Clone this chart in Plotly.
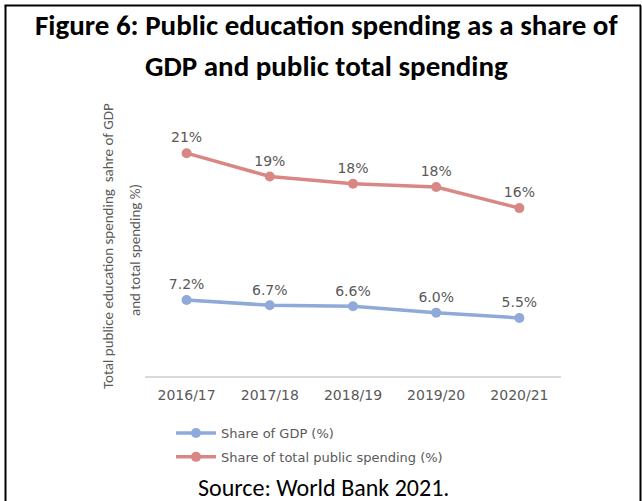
import plotly.graph_objects as go

years = ["2016/17", "2017/18", "2018/19", "2019/20", "2020/21"]
share_gdp = [7.2, 6.7, 6.6, 6.0, 5.5]
share_total = [21.1, 18.9, 18.2, 17.9, 15.9]

W, H = 642, 501
L, R, T, B = 145, 81, 112, 125
PW, PH = W - L - R, H - T - B

def px(x):
    return (x - L) / PW

def py(y):
    return (H - B - y) / PH

BLUE = "#8FAAD8"
RED = "#D98785"
GRAY = "#595959"
LBL = dict(family="DejaVu Sans, Verdana, sans-serif", size=14, color=GRAY)
CAL = "Carlito, Liberation Sans Narrow, Liberation Sans, sans-serif"

fig = go.Figure()
fig.add_trace(go.Scatter(
    x=years, y=share_gdp, mode="lines+markers+text", name="Share of GDP (%)",
    line=dict(color=BLUE, width=3.5), marker=dict(color=BLUE, size=10),
    text=[f"{v:.1f}%" for v in share_gdp], textposition="top center",
    textfont=LBL, legendgroup="a", cliponaxis=False))
fig.add_trace(go.Scatter(
    x=years, y=share_total, mode="lines+markers+text", name="Share of total public spending (%)",
    line=dict(color=RED, width=3.5), marker=dict(color=RED, size=10),
    text=[f"{v:.0f}%" for v in share_total], textposition="top center",
    textfont=LBL, legendgroup="b", cliponaxis=False))

TITLE_FONT = dict(family=CAL, size=29, color="#000000")

annotations = [
    dict(text="<b>Figure 6: Public education spending as a share of</b>", x=px(326), y=py(25),
         font=TITLE_FONT),
    dict(text="<b>GDP and public total spending</b>", x=px(326), y=py(66), font=TITLE_FONT),
    dict(text="Source: World Bank 2021.", x=px(323), y=py(487),
         font=dict(family=CAL, size=24, color="#000000")),
    dict(text="Total publice education spending  sahre of GDP", x=px(108), y=py(246), textangle=-90,
         font=dict(family=CAL, size=15, color=GRAY)),
    dict(text="and total spending %)", x=px(135), y=py(250), textangle=-90,
         font=dict(family=CAL, size=15, color=GRAY)),
]
for a in annotations:
    a.update(xref="paper", yref="paper", showarrow=False, xanchor="center", yanchor="middle")

fig.update_layout(
    width=W, height=H,
    margin=dict(l=L, r=R, t=T, b=B, pad=0),
    paper_bgcolor="white", plot_bgcolor="white",
    annotations=annotations,
    showlegend=True,
    legend=dict(x=px(171), y=py(418), xanchor="left", yanchor="top", orientation="v",
                font=dict(family="DejaVu Sans, Verdana, sans-serif", size=13, color=GRAY),
                tracegroupgap=4, itemwidth=40, bgcolor="rgba(0,0,0,0)"),
    xaxis=dict(range=[-0.5, 4.5], showgrid=False, showline=True, linecolor="#D9D9D9", linewidth=1.5,
               ticks="", tickfont=dict(family="DejaVu Sans, Verdana, sans-serif", size=14, color=GRAY),
               ticklabelstandoff=5, fixedrange=True),
    yaxis=dict(range=[0, 25], showgrid=False, showline=False, showticklabels=False,
               zeroline=False, ticks="", fixedrange=True),
    shapes=[
        dict(type="line", xref="paper", yref="paper", x0=px(5.5), x1=px(5.5), y0=py(5.5), y1=py(510),
             line=dict(color="black", width=2)),
        dict(type="line", xref="paper", yref="paper", x0=px(4.5), x1=px(641), y0=py(5.5), y1=py(5.5),
             line=dict(color="black", width=2)),
        dict(type="line", xref="paper", yref="paper", x0=px(640.5), x1=px(640.5), y0=py(5.5), y1=py(510),
             line=dict(color="black", width=2)),
    ],
)

fig.write_html("out.html")
